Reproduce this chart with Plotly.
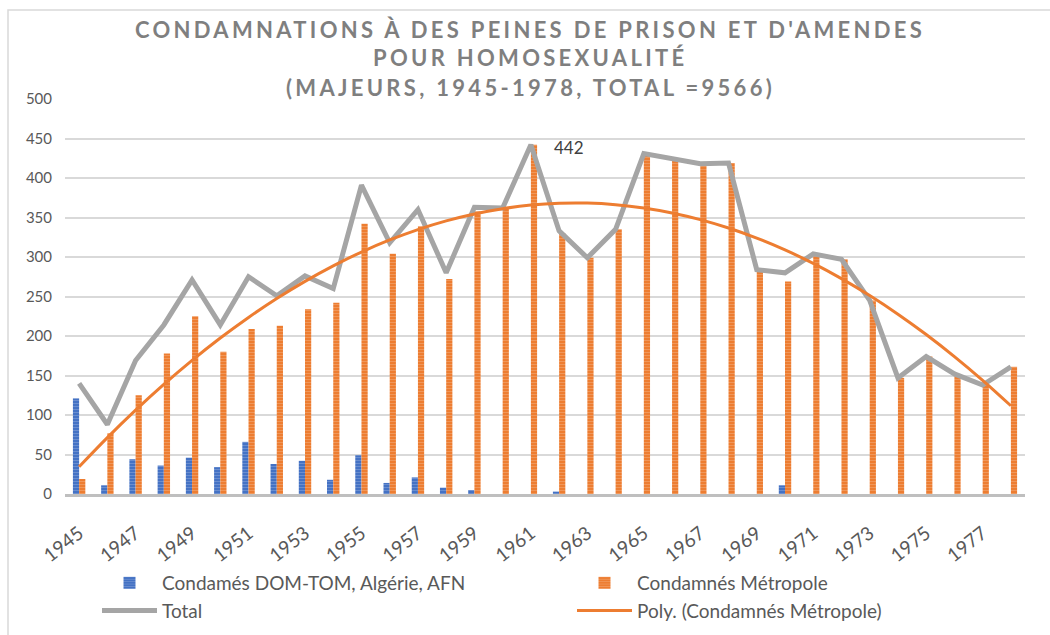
import numpy as np
import plotly.graph_objects as go

years = [str(y) for y in range(1945, 1979)]
dom_tom = [121, 11, 44, 36, 46, 34, 66, 38, 42, 18, 49, 14, 21, 8, 5, 0, 0, 3, 0, 0,
           0, 0, 0, 0, 0, 11, 0, 0, 0, 0, 0, 0, 0, 0]
metropole = [19, 77, 125, 178, 225, 180, 209, 213, 234, 242, 342, 304, 339, 272, 358, 362, 442, 330, 299, 335,
             431, 424, 418, 419, 284, 269, 304, 297, 245, 147, 174, 152, 138, 161]
total = [140, 88, 169, 214, 271, 214, 275, 251, 276, 260, 391, 318, 360, 280, 363, 362, 442, 333, 299, 335,
         431, 424, 418, 419, 284, 280, 304, 297, 245, 147, 174, 152, 138, 161]
tick_years = years[::2]
y_ticks = [0, 50, 100, 150, 200, 250, 300, 350, 400, 450, 500]
title_lines = ["CONDAMNATIONS À DES PEINES DE PRISON ET D'AMENDES",
               "POUR HOMOSEXUALITÉ",
               "(MAJEURS, 1945-1978, TOTAL =9566)"]

BLUE = "#4472C4"
ORANGE = "#ED7D31"
GRAY = "#A5A5A5"
FONT = "Lato"

# Excel-style polynomial (order 2) trendline of the Métropole series
xi = np.arange(1, len(years) + 1)
coef = np.polyfit(xi, metropole, 2)
poly = np.polyval(coef, xi)

fig = go.Figure()
fig.add_trace(go.Bar(
    x=years, y=dom_tom, name="Condamés DOM-TOM, Algérie, AFN", legend="legend",
    marker=dict(color=BLUE, line=dict(width=0),
                pattern=dict(shape="-", fgcolor="#8FAADC", bgcolor=BLUE, size=3, solidity=0.35)),
))
fig.add_trace(go.Bar(
    x=years, y=metropole, name="Condamnés Métropole", legend="legend2",
    marker=dict(color=ORANGE, line=dict(width=0),
                pattern=dict(shape="-", fgcolor="#F4B183", bgcolor=ORANGE, size=3, solidity=0.35)),
))
fig.add_trace(go.Scatter(
    x=years, y=total, name="Total", mode="lines", legend="legend",
    line=dict(color=GRAY, width=5),
))
fig.add_trace(go.Scatter(
    x=years, y=poly, name="Poly. (Condamnés Métropole)", mode="lines", legend="legend2",
    line=dict(color=ORANGE, width=3, shape="spline"),
))

peak_i = int(np.argmax(total))
fig.add_annotation(x=peak_i, y=total[peak_i], text=str(total[peak_i]),
                   showarrow=False, xshift=38, yshift=-3,
                   font=dict(size=17, color="#404040", family=FONT))

# title, one annotation per line (Excel-like line spacing)
title_pix = [30, 58, 87]
for line, py in zip(title_lines, title_pix):
    fig.add_annotation(xref="paper", yref="paper", x=(530 - 65) / 960, y=(494 - py) / 395,
                       xanchor="center", yanchor="middle", showarrow=False,
                       text="<span style='letter-spacing:3.3px'><b>" + line + "</b></span>",
                       font=dict(size=22, color="#7F7F7F", family=FONT))

fig.add_shape(type="rect", xref="paper", yref="paper",
              x0=-57 / 960, x1=1.2, y0=-0.5, y1=1 + 89 / 395,
              line=dict(color="#D9D9D9", width=1.5), fillcolor="rgba(0,0,0,0)", layer="below")

legend_common = dict(orientation="v", xref="container", yref="container",
                     y=1 - 564 / 635, xanchor="left", yanchor="top", traceorder="normal",
                     font=dict(size=19, color="#595959", family=FONT),
                     itemwidth=55, tracegroupgap=0, bgcolor="rgba(0,0,0,0)")

fig.update_layout(
    width=1050, height=635,
    margin=dict(l=65, r=25, t=99, b=141, autoexpand=False),
    paper_bgcolor="white", plot_bgcolor="white",
    barmode="group", bargap=0.56, bargroupgap=0.0,
    font=dict(family=FONT, color="#595959", size=14),
    showlegend=True,
    legend=dict(x=97 / 1050, **legend_common),
    legend2=dict(x=572 / 1050, **legend_common),
)
fig.update_xaxes(
    type="category", range=[-0.5, len(years) - 0.5],
    tickmode="array", tickvals=list(range(0, len(years), 2)), ticktext=tick_years,
    tickangle=-38, showgrid=False, ticks="", showline=True, linecolor="#BFBFBF", linewidth=3,
    ticklabelstandoff=18,
    tickfont=dict(size=19, color="#595959"), automargin=False,
)
fig.update_yaxes(
    range=[0, 500], tickvals=y_ticks, showgrid=True, gridcolor="#D9D9D9", gridwidth=1.5,
    zeroline=False, showline=False, ticks="", ticklabelstandoff=12,
    tickfont=dict(size=15, color="#595959"), automargin=False,
)

fig.write_html("out.html", config={"displayModeBar": False},
               post_script="document.body.style.margin='0';")
